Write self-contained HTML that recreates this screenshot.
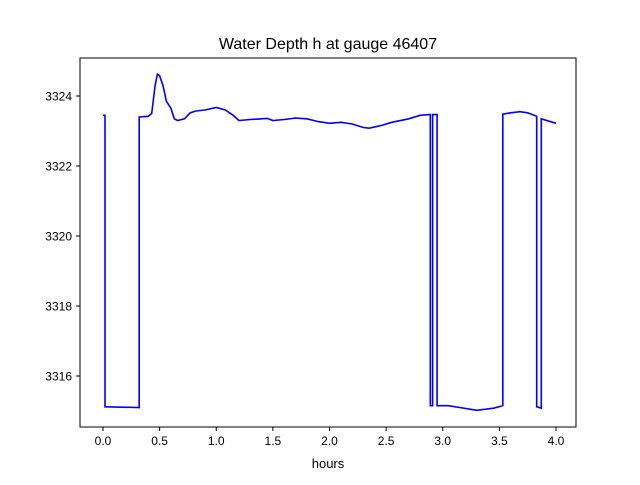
<!DOCTYPE html>
<html><head><meta charset="utf-8"><style>
body{margin:0;background:#fff;font-family:"Liberation Sans","DejaVu Sans",sans-serif}
</style></head><body>
<svg width="640" height="480" xmlns="http://www.w3.org/2000/svg">
<rect width="640" height="480" fill="#fff"/>
<text x="328" y="49" text-anchor="middle" font-size="16">Water Depth h at gauge 46407</text>
<g id="axes"></g>
<path id="line" fill="none" stroke="#0000ff" stroke-width="1.6"/>
<rect x="80" y="58" width="496" height="369" fill="none" stroke="#000" stroke-width="1"/>
<text x="328" y="468" text-anchor="middle" font-size="13">hours</text>
</svg>
<script>
const times=[0,0.018,0.018,0.32,0.32,0.4,0.43,0.46,0.48,0.5,0.53,0.56,0.6,0.63,0.66,0.72,0.77,0.82,0.9,1.0,1.08,1.15,1.2,1.3,1.4,1.45,1.5,1.6,1.7,1.8,1.9,2.0,2.1,2.2,2.3,2.35,2.45,2.55,2.7,2.8,2.88,2.89,2.89,2.91,2.91,2.95,2.95,3.05,3.15,3.3,3.45,3.53,3.53,3.6,3.68,3.75,3.83,3.83,3.87,3.87,4.0];
const depths=[3323.45,3323.45,3315.12,3315.1,3323.4,3323.42,3323.5,3324.3,3324.62,3324.58,3324.3,3323.85,3323.65,3323.35,3323.3,3323.35,3323.52,3323.57,3323.6,3323.67,3323.6,3323.45,3323.3,3323.33,3323.35,3323.36,3323.3,3323.33,3323.37,3323.35,3323.27,3323.22,3323.25,3323.2,3323.1,3323.08,3323.15,3323.25,3323.35,3323.45,3323.47,3323.47,3315.15,3315.15,3323.47,3323.47,3315.15,3315.15,3315.1,3315.02,3315.08,3315.15,3323.48,3323.52,3323.55,3323.52,3323.42,3315.12,3315.08,3323.35,3323.22];
const xTicks=[0,0.5,1,1.5,2,2.5,3,3.5,4];
const yTicks=[3316,3318,3320,3322,3324];
const xs=t=>103+t*113.25;
const ys=v=>96+(3324-v)*35;
const NS="http://www.w3.org/2000/svg";
const g=document.getElementById('axes');
function el(tag,attrs){const e=document.createElementNS(NS,tag);for(const k in attrs)e.setAttribute(k,attrs[k]);return e;}
xTicks.forEach(t=>{
 const x=xs(t);
 const l=el('line',{x1:x,x2:x,y1:427,y2:431,stroke:'#000'});
 
 
 g.appendChild(l);
 const tx=el('text',{x:x,y:445,'text-anchor':'middle','font-size':'12'});
 tx.textContent=t.toFixed(1);
 
 
 g.appendChild(tx);
});
yTicks.forEach(v=>{
 const y=ys(v);
 const l=el('line',{x1:76,x2:80,y1:y,y2:y,stroke:'#000'});
 
 
 g.appendChild(l);
 const tx=el('text',{x:72,y:y+4.5,'text-anchor':'end','font-size':'12'});
 tx.textContent=v;
 
 
 g.appendChild(tx);
});
document.getElementById('line').setAttribute('d',times.map((t,i)=>(i?'L':'M')+xs(t).toFixed(1)+' '+ys(depths[i]).toFixed(1)).join(' '));
</script>
</body></html>
